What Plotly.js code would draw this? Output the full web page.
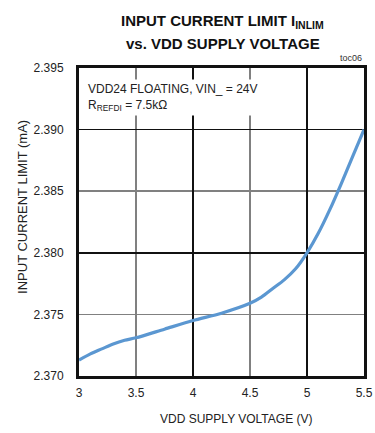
<!DOCTYPE html>
<html><head><meta charset="utf-8">
<script src="https://cdn.plot.ly/plotly-3.0.1.min.js"></script>
<style>body{margin:0;background:#fff}#c{width:375px;height:433px}</style>
</head><body><div id="c"></div>
<script>
const vdd = [3.0, 3.1, 3.2, 3.3, 3.4, 3.5, 3.75, 4.0, 4.25, 4.5, 4.6, 4.7, 4.8, 4.9, 5.0, 5.1, 5.2, 5.3, 5.4, 5.5];
const ilim = [2.3713, 2.3718, 2.3722, 2.3726, 2.3729, 2.3731, 2.3738, 2.3745, 2.3751, 2.3759, 2.3764, 2.3771, 2.3778, 2.3787, 2.3800, 2.3816, 2.3835, 2.3856, 2.3878, 2.3900];
const xTicks = [3, 3.5, 4, 4.5, 5, 5.5];
const xTickText = ['3', '3.5', '4', '4.5', '5', '5.5'];
const yTicks = [2.370, 2.375, 2.380, 2.385, 2.390, 2.395];
const yTickText = ['2.370', '2.375', '2.380', '2.385', '2.390', '2.395'];

const F = 'Liberation Sans Narrow, Arial Narrow, Liberation Sans, Arial, sans-serif';
const trace = {x: vdd, y: ilim, type: 'scatter', mode: 'lines',
  line: {color: '#5b97d1', width: 3.2, shape: 'spline', smoothing: 0.8}, hoverinfo: 'skip'};
const dummy = {x: [3], y: [2.37], xaxis: 'x2', yaxis: 'y2', mode: 'markers', marker: {opacity: 0}, hoverinfo: 'skip'};

const layout = {
  width: 375, height: 433, showlegend: false,
  margin: {l: 79, r: 11, t: 68, b: 57},
  paper_bgcolor: '#fff', plot_bgcolor: '#fff',
  font: {family: F, color: '#222', size: 12},
  xaxis: {range: [3, 5.5], tickvals: xTicks, ticktext: xTickText, showgrid: true, gridcolor: '#808080', gridwidth: 1.5,
    zeroline: false, showline: true, mirror: true, linecolor: '#111', linewidth: 3, ticks: '',
    tickfont: {family: F, size: 12, color: '#222'}, ticklabelstandoff: 4},
  yaxis: {range: [2.370, 2.395], tickvals: yTicks, ticktext: yTickText, showgrid: true, gridcolor: '#808080', gridwidth: 1.5,
    zeroline: false, showline: true, mirror: true, linecolor: '#111', linewidth: 3, ticks: '',
    tickfont: {family: F, size: 12, color: '#222'}, ticklabelstandoff: 10},
  xaxis2: {overlaying: 'x', range: [3, 5.5], tick0: 3, dtick: 1, showgrid: true, gridcolor: '#111', gridwidth: 1.5,
    showticklabels: false, zeroline: false, ticks: '', side: 'bottom'},
  yaxis2: {overlaying: 'y', range: [2.370, 2.395], tick0: 2.37, dtick: 0.01, showgrid: true, gridcolor: '#111', gridwidth: 1.5,
    showticklabels: false, zeroline: false, ticks: ''},
  annotations: [
    {xref: 'paper', yref: 'paper', x: 0.505, y: 1.152, xanchor: 'center', yanchor: 'middle', showarrow: false,
     text: '<b>INPUT CURRENT LIMIT I<sub>INLIM</sub></b>', font: {family: F, size: 15, color: '#111'}},
    {xref: 'paper', yref: 'paper', x: 0.505, y: 1.079, xanchor: 'center', yanchor: 'middle', showarrow: false,
     text: '<b>vs. VDD SUPPLY VOLTAGE</b>', font: {family: F, size: 15, color: '#111'}},
    {xref: 'paper', yref: 'paper', x: 0.551, y: -0.14, xanchor: 'center', yanchor: 'middle', showarrow: false,
     text: 'VDD SUPPLY VOLTAGE (V)', font: {family: F, size: 12, color: '#222'}},
    {xref: 'paper', yref: 'paper', x: -0.1965, y: 0.549, xanchor: 'center', yanchor: 'middle', showarrow: false, textangle: -90,
     text: 'INPUT CURRENT LIMIT (mA)', font: {family: F, size: 13, color: '#222'}},
    {xref: 'paper', yref: 'paper', x: 0.02, y: 0.965, xanchor: 'left', yanchor: 'top', align: 'left', showarrow: false,
     text: 'VDD24 FLOATING, VIN_ = 24V<br>R<sub>REFDI</sub> = 7.5kΩ', bgcolor: '#fff', borderpad: 2,
     font: {family: F, size: 12, color: '#222'}},
    {xref: 'paper', yref: 'paper', x: 1.0, y: 1.01, xanchor: 'right', yanchor: 'bottom', showarrow: false,
     text: 'toc06', font: {family: F, size: 9, color: '#333'}}
  ]
};
Plotly.newPlot('c', [dummy, trace], layout, {staticPlot: true});
</script></body></html>
